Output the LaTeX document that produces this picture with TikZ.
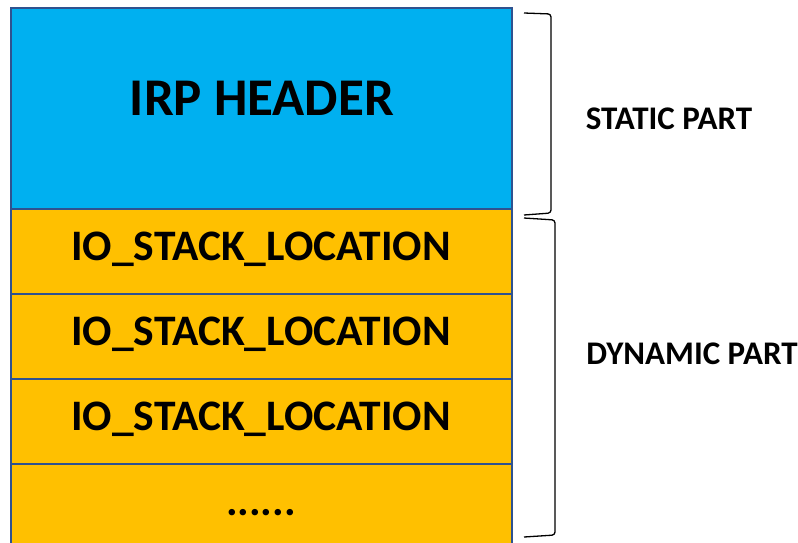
\documentclass[tikz,border=0pt]{standalone}
\usepackage{fontspec}
\setmainfont{Carlito}
\begin{document}
\begin{tikzpicture}[x=1pt,y=-1pt,
  cell/.style={draw=boxblue,line width=2.6pt},
  celltext/.style={font=\bfseries\fontsize{43.5}{46}\selectfont,anchor=center},
  side/.style={font=\bfseries\fontsize{33}{36}\selectfont,anchor=center},
  brace/.style={draw=black,line width=1.3pt,rounded corners=3pt}]
\definecolor{boxblue}{HTML}{2F528F}
\definecolor{hdr}{HTML}{00B0F0}
\definecolor{stk}{HTML}{FFC000}
\useasboundingbox (0,0) rectangle (798,542);
\fill[hdr] (11,8) rectangle (512,209);
\fill[stk] (11,209) rectangle (512,545);
\draw[cell] (11,545) -- (11,8) -- (512,8) -- (512,545);
\draw[cell] (11,209) -- (512,209);
\draw[cell] (11,294) -- (512,294);
\draw[cell] (11,379) -- (512,379);
\draw[cell] (11,464) -- (512,464);
\node[font=\bfseries\fontsize{53}{56}\selectfont] (hdrtxt) at (262,98) {IRP HEADER};
\node[celltext] (s1) at (261,249) {IO\_STACK\_LOCATION};
\node[celltext] (s2) at (261,334) {IO\_STACK\_LOCATION};
\node[celltext] (s3) at (261,419) {IO\_STACK\_LOCATION};
\node[celltext] (s4) at (261,513) {......};
\draw[brace] (524,13) -- (551,14) -- (551,213) -- (524,215);
\draw[brace] (524,218) -- (555,220) -- (555,535) -- (524,537);
\node[side] (st) at (669,119) {STATIC PART};
\node[side] (dy) at (692,354) {DYNAMIC PART};
\end{tikzpicture}
\end{document}
